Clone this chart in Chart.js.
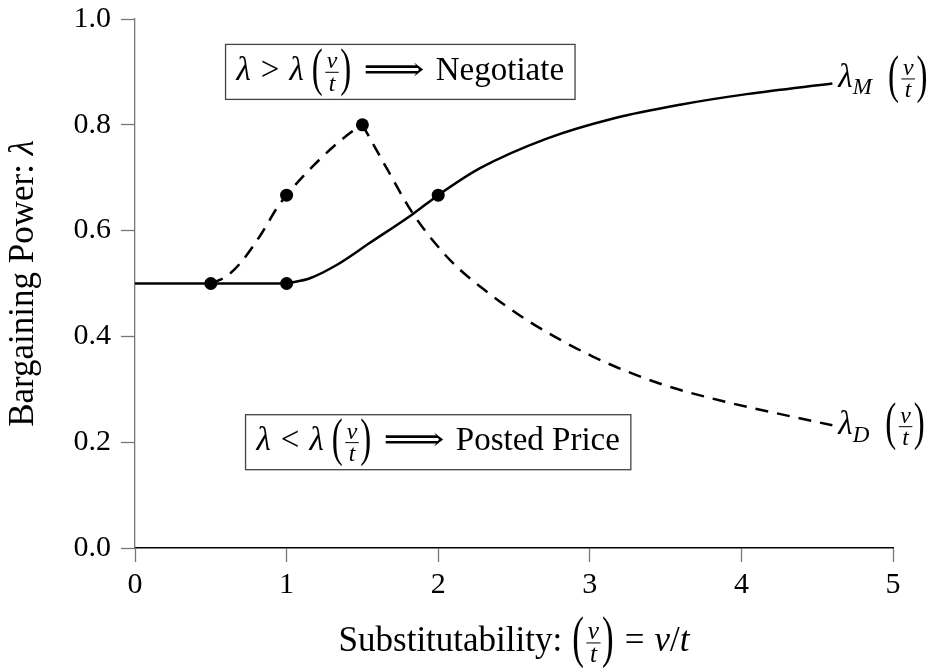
<!DOCTYPE html>
<html>
<head>
<meta charset="utf-8">
<script src="https://cdn.jsdelivr.net/npm/chart.js@4.4.1/dist/chart.umd.min.js"></script>
<style>
  html, body { margin: 0; padding: 0; background: #fff; }
  #wrap { width: 933px; height: 668px; }
</style>
</head>
<body>
<div id="wrap"><canvas id="chartLambda" width="933" height="668"></canvas></div>
<script>
// ---- DONNEES ----
// lambda = 0.5 a plat avant v/t = 1
const flatX = [0, 1];
const flatY = [0.5, 0.5];

// lambda_M (trait plein)
const lamMX = [1, 1.154, 1.33, 1.55, 1.836, 2, 2.276, 2.716, 3.155, 3.595, 4.035, 4.6];
const lamMY = [0.5, 0.51, 0.535, 0.577, 0.632, 0.667, 0.718, 0.774, 0.812, 0.838, 0.858, 0.878];

// lambda_D (pointilles) - montee puis descente
const lamDUpX = [0.5, 0.6, 0.693, 0.836, 0.939, 1, 1.11, 1.22, 1.33, 1.44, 1.5];
const lamDUpY = [0.5, 0.513, 0.538, 0.595, 0.644, 0.667, 0.703, 0.735, 0.764, 0.789, 0.8];
const lamDDownX = [1.5, 1.66, 1.836, 2.034, 2.144, 2.3, 2.584, 3.02, 3.46, 3.9, 4.34, 4.6];
const lamDDownY = [0.8, 0.718, 0.631, 0.558, 0.526, 0.489, 0.431, 0.362, 0.311, 0.276, 0.248, 0.232];

// points noirs
const dotsX = [0.5, 1, 1, 1.5, 2];
const dotsY = [0.5, 0.5, 0.667, 0.8, 0.667];

// ticks
const xTicks = [0, 1, 2, 3, 4, 5];
const yTicks = [0, 0.2, 0.4, 0.6, 0.8, 1.0];

const F = '"Liberation Serif", "DejaVu Serif", serif';

function toPts(xs, ys) {
  return xs.map((x, i) => ({ x: x, y: ys[i] }));
}

// ---- petit moteur de texte "math" sur le canvas ----
const FRAC = 0.72;   // taille de la fraction
const PAREN = 1.6;   // etirement vertical des parentheses

function tokW(ctx, t, size) {
  if (t.f) {
    ctx.font = 'italic ' + (size * FRAC) + 'px ' + F;
    return Math.max(ctx.measureText(t.f[0]).width, ctx.measureText(t.f[1]).width) + 6;
  }
  if (t.p) {
    ctx.font = size + 'px ' + F;
    return ctx.measureText(t.p).width + 1;
  }
  if (t.gap) return t.gap;
  const sz = t.sub ? size * 0.7 : size;
  ctx.font = (t.i ? 'italic ' : '') + sz + 'px ' + F;
  return ctx.measureText(t.s).width * (t.sx || 1);
}

function mathWidth(ctx, tokens, size) {
  let w = 0;
  tokens.forEach(t => { w += tokW(ctx, t, size); });
  return w;
}

function drawMath(ctx, tokens, x, base, size, align) {
  const w = mathWidth(ctx, tokens, size);
  let cx = align === 'center' ? x - w / 2 : (align === 'right' ? x - w : x);
  const axis = base - size * 0.23;
  ctx.fillStyle = '#000';
  ctx.textBaseline = 'alphabetic';
  tokens.forEach(t => {
    const tw = tokW(ctx, t, size);
    ctx.textAlign = 'left';
    if (t.f) {
      const fs = size * FRAC;
      ctx.font = 'italic ' + fs + 'px ' + F;
      ctx.textAlign = 'center';
      ctx.fillText(t.f[0], cx + tw / 2, axis - 4);
      ctx.fillText(t.f[1], cx + tw / 2, axis + 4 + fs * 0.6);
      ctx.beginPath();
      ctx.moveTo(cx + 1.5, axis);
      ctx.lineTo(cx + tw - 1.5, axis);
      ctx.lineWidth = 1;
      ctx.strokeStyle = '#000';
      ctx.stroke();
    } else if (t.p) {
      ctx.save();
      ctx.font = size + 'px ' + F;
      ctx.translate(cx, axis);
      ctx.scale(1, PAREN);
      ctx.fillText(t.p, 0, size * 0.24);
      ctx.restore();
    } else if (!t.gap) {
      const sz = t.sub ? size * 0.7 : size;
      ctx.font = (t.i ? 'italic ' : '') + sz + 'px ' + F;
      ctx.save();
      ctx.translate(cx, base + (t.sub ? size * 0.22 : 0));
      ctx.scale(t.sx || 1, 1);
      ctx.fillText(t.s, 0, 0);
      ctx.restore();
    }
    cx += tw;
  });
  return w;
}

const vt = [{ p: '(' }, { f: ['v', 't'] }, { p: ')' }];
const arrow = [{ gap: 11 }, { s: '⟹', sx: 1.3 }, { gap: 11 }];

const boxNeg = [{ s: 'λ', i: 1 }, { gap: 10 }, { s: '>' }, { gap: 10 }, { s: 'λ', i: 1 }, { gap: 8 }].concat(vt, arrow, [{ s: 'Negotiate' }]);
const boxPost = [{ s: 'λ', i: 1 }, { gap: 10 }, { s: '<' }, { gap: 10 }, { s: 'λ', i: 1 }, { gap: 8 }].concat(vt, arrow, [{ s: 'Posted Price' }]);
const labM = [{ s: 'λ', i: 1 }, { s: 'M', i: 1, sub: 1 }, { gap: 16 }].concat(vt);
const labD = [{ s: 'λ', i: 1 }, { s: 'D', i: 1, sub: 1 }, { gap: 16 }].concat(vt);
const xTitle = [{ s: 'Substitutability:' }, { gap: 10 }].concat(vt, [{ gap: 10 }, { s: '=' }, { gap: 10 }, { s: 'v', i: 1 }, { s: '/' }, { s: 't', i: 1 }]);
const yTitle = [{ s: 'Bargaining Power: ' }, { s: 'λ', i: 1 }];

// ---- plugin: titres, boites et etiquettes ----
const mathPlugin = {
  id: 'mathText',
  afterDraw(chart) {
    const ctx = chart.ctx;
    const xs = chart.scales.x, ys = chart.scales.y, ca = chart.chartArea;
    ctx.save();

    // boites
    [[boxNeg, 1.75, 0.9], [boxPost, 2.0, 0.2]].forEach(b => {
      const size = 33;
      const w = mathWidth(ctx, b[0], size) + 22;
      const h = 55;
      const cx = xs.getPixelForValue(b[1]);
      const cy = ys.getPixelForValue(b[2]);
      ctx.fillStyle = '#fff';
      ctx.fillRect(cx - w / 2, cy - h / 2, w, h);
      ctx.strokeStyle = '#444';
      ctx.lineWidth = 1.3;
      ctx.strokeRect(cx - w / 2, cy - h / 2, w, h);
      drawMath(ctx, b[0], cx, cy + 8, size, 'center');
    });

    // etiquettes en bout de courbe
    const mEnd = lamMX.length - 1, dEnd = lamDDownX.length - 1;
    drawMath(ctx, labM, xs.getPixelForValue(lamMX[mEnd]) + 6, ys.getPixelForValue(lamMY[mEnd]) + 3, 33, 'left');
    drawMath(ctx, labD, xs.getPixelForValue(lamDDownX[dEnd]) + 6, ys.getPixelForValue(lamDDownY[dEnd]) + 9, 33, 'left');

    // titre axe x
    drawMath(ctx, xTitle, (ca.left + ca.right) / 2, 651, 35, 'center');

    // titre axe y (tourne)
    ctx.translate(33, (ca.top + ca.bottom) / 2);
    ctx.rotate(-Math.PI / 2);
    drawMath(ctx, yTitle, 0, 0, 35, 'center');
    ctx.restore();
  }
};

// ---- CONFIGURATION DU GRAPH ----
const lineStyle = { borderColor: '#000', borderWidth: 2.5, pointRadius: 0, showLine: true, fill: false, cubicInterpolationMode: 'monotone' };

const config = {
  type: 'scatter',
  data: {
    datasets: [
      Object.assign({ label: 'flat', data: toPts(flatX, flatY) }, lineStyle),
      Object.assign({ label: 'lambdaM', data: toPts(lamMX, lamMY) }, lineStyle),
      Object.assign({ label: 'lambdaD up', data: toPts(lamDUpX, lamDUpY), borderDash: [13, 9] }, lineStyle),
      Object.assign({ label: 'lambdaD down', data: toPts(lamDDownX, lamDDownY), borderDash: [13, 9] }, lineStyle),
      { label: 'dots', data: toPts(dotsX, dotsY), pointRadius: 6.5, backgroundColor: '#000', borderColor: '#000', borderWidth: 0, showLine: false }
    ]
  },
  options: {
    responsive: false,
    animation: false,
    layout: { padding: { top: 19, right: 40, left: 0, bottom: 0 } },
    plugins: { legend: { display: false }, tooltip: { enabled: false } },
    scales: {
      x: {
        type: 'linear', min: 0, max: 5,
        afterFit: s => { s.height = 120; s.paddingLeft = 0; s.paddingRight = 0; },
        afterBuildTicks: s => { s.ticks = xTicks.map(v => ({ value: v })); },
        grid: { drawOnChartArea: false, tickLength: 14, color: '#777', tickWidth: 1.3 },
        border: { color: '#000', width: 1.5 },
        ticks: { color: '#000', padding: 5, font: { family: F, size: 30 }, maxRotation: 0, callback: v => String(v) }
      },
      y: {
        min: 0, max: 1,
        afterFit: s => { s.width = 135; s.paddingTop = 0; s.paddingBottom = 0; },
        afterBuildTicks: s => { s.ticks = yTicks.map(v => ({ value: v })); },
        grid: { drawOnChartArea: false, tickLength: 14, color: '#777', tickWidth: 1.3 },
        border: { color: '#777', width: 1.3 },
        ticks: { color: '#000', padding: 10, font: { family: F, size: 30 }, callback: v => v.toFixed(1) }
      }
    }
  },
  plugins: [mathPlugin]
};

const chartLambda = new Chart(document.getElementById('chartLambda'), config);
</script>
</body>
</html>
